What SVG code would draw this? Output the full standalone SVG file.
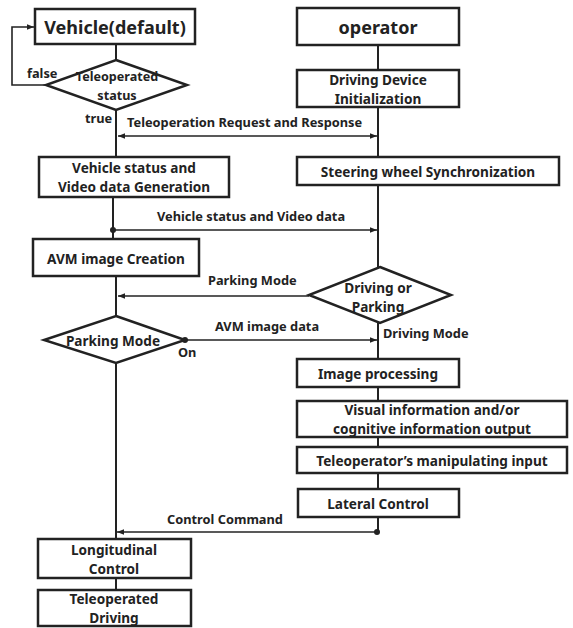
<svg xmlns="http://www.w3.org/2000/svg" width="573" height="628" viewBox="0 0 573 628">
<style>
.box{fill:#fff;stroke:#222;stroke-width:2.5}
.dia{fill:#fff;stroke:#222;stroke-width:2.5}
.ln{fill:none;stroke:#222;stroke-width:2}
.cn{fill:none;stroke:#222;stroke-width:1.6}
.t{font-family:"Noto Sans","Liberation Sans",sans-serif;font-weight:700;font-size:13.6px;fill:#222;text-anchor:middle;dominant-baseline:central}
.sm{font-size:12.6px}
.big{font-size:18px}
.lab{font-family:"Noto Sans","Liberation Sans",sans-serif;font-weight:700;font-size:12.8px;fill:#222;dominant-baseline:central}
</style>
<defs>
<marker id="ah" viewBox="0 0 10 10" refX="10" refY="5" markerWidth="7" markerHeight="7" markerUnits="userSpaceOnUse" orient="auto"><path d="M0,1 L10,5 L0,9 z" fill="#222"/></marker>
</defs>
<g id="connectors">
<path class="ln" d="M116,44 V60"/>
<path class="ln" d="M116,110 V157"/>
<path class="ln" d="M113,197 V239"/>
<path class="ln" d="M116,276 V316"/>
<path class="ln" d="M116,363 V539"/>
<path class="ln" d="M116,578 V590"/>
<path class="ln" d="M378,45 V70"/>
<path class="ln" d="M378,107 V157"/>
<path class="ln" d="M378,185 V267"/>
<path class="ln" d="M378,323 V359"/>
<path class="ln" d="M378,387 V401"/>
<path class="ln" d="M378,437 V447"/>
<path class="ln" d="M378,473 V489"/>
<path class="ln" d="M378,517 V532"/>
<path class="cn" d="M46,85 H12 V27 H34" marker-end="url(#ah)"/>
<path class="cn" d="M248,136 H118" marker-end="url(#ah)"/>
<path class="cn" d="M248,136 H377" marker-end="url(#ah)"/>
<path class="cn" d="M113,230 H377" marker-end="url(#ah)"/>
<circle cx="113" cy="230" r="3" fill="#222"/>
<path class="cn" d="M309,296 H118" marker-end="url(#ah)"/>
<path class="cn" d="M185,340 H377" marker-end="url(#ah)"/>
<circle cx="185" cy="340" r="3" fill="#222"/>
<path class="cn" d="M377,532 H117" marker-end="url(#ah)"/>
<circle cx="377" cy="532" r="3" fill="#222"/>
<text class="lab" x="27" y="73">false</text>
<text class="lab" x="85" y="118">true</text>
<text class="lab" x="127" y="122">Teleoperation Request and Response</text>
<text class="lab" x="157" y="216">Vehicle status and Video data</text>
<text class="lab" x="208" y="280">Parking Mode</text>
<text class="lab" x="215" y="326">AVM image data</text>
<text class="lab" x="178" y="352">On</text>
<text class="lab" x="383" y="333">Driving Mode</text>
<text class="lab" x="167" y="519">Control Command</text>
</g>
<g id="vehicle"><rect class="box" x="35" y="9" width="160" height="35"/><text class="t big" x="115" y="27">Vehicle(default)</text></g>
<g id="teleop-status"><path class="dia" d="M116,60 L187,85 L116,110 L46,85 z"/><text class="t sm" x="117" y="76.5">Teleoperated</text><text class="t sm" x="117" y="95">status</text></g>
<g id="operator"><rect class="box" x="297" y="8" width="162" height="37"/><text class="t big" x="378" y="27">operator</text></g>
<g id="device-init"><rect class="box" x="297" y="70" width="162" height="37"/><text class="t" x="378" y="79.5">Driving Device</text><text class="t" x="378" y="98.5">Initialization</text></g>
<g id="steering"><rect class="box" x="297" y="157" width="262" height="28"/><text class="t" x="428" y="171">Steering wheel Synchronization</text></g>
<g id="vs-gen"><rect class="box" x="39" y="157" width="190" height="40"/><text class="t" x="134" y="167.5">Vehicle status and</text><text class="t" x="134" y="186.5">Video data Generation</text></g>
<g id="avm"><rect class="box" x="33" y="239" width="166" height="37"/><text class="t" x="116" y="258">AVM image Creation</text></g>
<g id="driving-parking"><path class="dia" d="M380,267 L451,295 L380,323 L309,295 z"/><text class="t" x="378" y="287">Driving or</text><text class="t" x="378" y="306">Parking</text></g>
<g id="parking-mode"><path class="dia" d="M116,316 L185,340 L116,363 L44,340 z"/><text class="t" x="113" y="340">Parking Mode</text></g>
<g id="image-proc"><rect class="box" x="297" y="359" width="162" height="28"/><text class="t" x="378" y="373">Image processing</text></g>
<g id="visual"><rect class="box" x="297" y="401" width="270" height="36"/><text class="t" x="432" y="409.5">Visual information and/or</text><text class="t" x="432" y="428.5">cognitive information output</text></g>
<g id="manip"><rect class="box" x="297" y="447" width="270" height="26"/><text class="t" x="432" y="460">Teleoperator’s manipulating input</text></g>
<g id="lateral"><rect class="box" x="298" y="489" width="161" height="28"/><text class="t" x="378" y="503">Lateral Control</text></g>
<g id="longitudinal"><rect class="box" x="38" y="539" width="153" height="39"/><text class="t" x="114" y="549">Longitudinal</text><text class="t" x="114" y="568">Control</text></g>
<g id="teleop-driving"><rect class="box" x="38" y="590" width="153" height="36"/><text class="t" x="114" y="598.5">Teleoperated</text><text class="t" x="114" y="617.5">Driving</text></g>
</svg>
